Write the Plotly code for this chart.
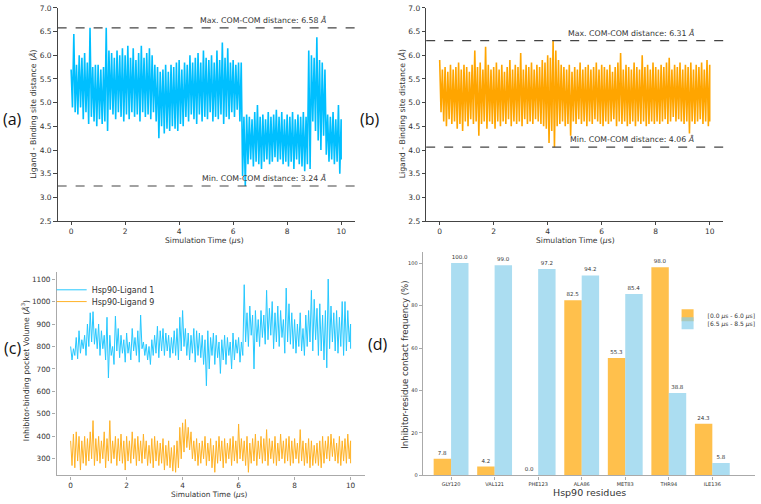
import plotly.graph_objects as go

# ---------------- DATA ----------------
times = [round(i * 0.1, 1) for i in range(101)]
time_ticks = [0, 2, 4, 6, 8, 10]
dist_ticks = [2.5, 3.0, 3.5, 4.0, 4.5, 5.0, 5.5, 6.0, 6.5, 7.0]
vol_ticks = [300, 400, 500, 600, 700, 800, 900, 1000, 1100]
freq_ticks = [0, 20, 40, 60, 80, 100]

# (a) Hsp90-Ligand 1 COM-COM distance: upper / lower envelope read every 0.1 us
dist_a_hi = [5.7, 6.45, 5.8, 6.0, 5.95, 6.05, 5.85, 6.58, 5.75, 5.8,
             5.8, 5.7, 5.75, 6.58, 6.1, 6.05, 5.95, 6.1, 6.0, 6.15,
             6.0, 6.2, 5.95, 6.15, 5.9, 6.05, 6.2, 5.95, 6.05, 6.15,
             6.0, 5.8, 5.75, 5.65, 5.7, 5.8, 5.65, 5.8, 5.75, 5.85,
             5.9, 5.7, 5.85, 5.8, 6.0, 5.85, 5.95, 6.05, 5.85, 6.1,
             5.95, 5.9, 6.0, 5.85, 6.1, 5.9, 6.27, 5.95, 6.15, 5.85,
             5.9, 5.8, 5.85, 5.85, 4.7, 4.75, 4.7, 4.65, 4.8, 4.95,
             4.7, 4.75, 4.65, 4.8, 4.7, 4.75, 4.85, 4.7, 4.8, 4.65,
             4.75, 4.7, 4.8, 4.65, 4.75, 4.7, 4.8, 4.7, 6.1, 6.0,
             5.95, 6.38, 5.9, 5.85, 5.7, 4.75, 4.7, 4.8, 4.65, 4.95,
             4.65]
dist_a_lo = [4.9, 4.8, 4.75, 4.9, 4.65, 4.8, 4.55, 4.7, 4.6, 4.5,
             4.65, 4.55, 4.6, 4.4, 4.85, 4.75, 4.65, 4.8, 4.7, 4.6,
             4.75, 4.65, 4.8, 4.7, 4.75, 4.6, 4.8, 4.7, 4.75, 4.65,
             4.8, 4.6, 4.25, 4.5, 4.35, 4.45, 4.4, 4.5, 4.45, 4.4,
             4.55, 4.5, 4.7, 4.6, 4.75, 4.65, 4.55, 4.75, 4.6, 4.7,
             4.65, 4.8, 4.6, 4.7, 4.65, 4.75, 4.55, 4.7, 4.65, 4.8,
             4.7, 4.85, 4.6, 3.45, 3.24, 3.7, 3.8, 3.65, 3.75, 3.7,
             3.6, 3.75, 3.8, 3.7, 3.75, 3.85, 3.75, 3.8, 3.7, 3.75,
             3.65, 3.75, 3.6, 3.8, 3.7, 3.65, 3.55, 3.7, 3.6, 4.6,
             4.4, 4.2, 4.0, 4.3, 3.9, 3.75, 3.8, 3.7, 3.75, 3.5,
             3.8]
limits_a = [6.58, 3.24]

# (b) Hsp90-Ligand 9 COM-COM distance
dist_b_hi = [5.9, 5.7, 5.75, 5.65, 5.8, 5.7, 5.75, 5.85, 5.7, 5.8,
             5.75, 5.65, 5.8, 6.1, 5.75, 5.85, 5.7, 6.18, 5.8, 5.7,
             5.75, 5.85, 5.7, 5.8, 5.65, 5.75, 5.9, 5.7, 5.8, 5.75,
             6.05, 5.7, 5.8, 5.75, 5.85, 5.7, 5.8, 5.75, 5.9, 5.85,
             6.0, 5.95, 6.31, 6.1, 5.9, 5.8, 5.75, 5.7, 5.8, 5.65,
             5.75, 5.7, 5.85, 5.7, 5.75, 5.8, 5.7, 5.75, 5.85, 5.7,
             5.8, 5.75, 5.7, 5.8, 5.65, 5.75, 5.85, 6.05, 5.7, 5.8,
             5.75, 5.7, 5.85, 5.75, 5.7, 6.0, 5.75, 5.8, 5.7, 5.85,
             5.75, 5.7, 5.8, 5.75, 5.85, 5.95, 5.7, 5.8, 5.75, 5.85,
             5.7, 5.8, 5.75, 5.85, 5.7, 5.8, 5.75, 5.85, 5.7, 5.9,
             5.8]
dist_b_lo = [4.8, 4.6, 4.5, 4.65, 4.55, 4.6, 4.45, 4.55, 4.4, 4.6,
             4.5, 4.65, 4.55, 4.6, 4.3, 4.55, 4.6, 4.45, 4.6, 4.55,
             4.45, 4.6, 4.5, 4.6, 4.55, 4.65, 4.5, 4.6, 4.55, 4.6,
             4.5, 4.65, 4.55, 4.6, 4.55, 4.65, 4.6, 4.55, 4.5, 4.45,
             4.15, 4.4, 4.06, 4.5, 4.55, 4.6, 4.5, 4.55, 4.3, 4.6,
             4.55, 4.65, 4.55, 4.6, 4.5, 4.6, 4.55, 4.65, 4.6, 4.55,
             4.5, 4.6, 4.55, 4.6, 4.65, 4.5, 4.6, 4.55, 4.6, 4.5,
             4.55, 4.6, 4.5, 4.6, 4.55, 4.6, 4.5, 4.55, 4.6, 4.55,
             4.6, 4.55, 4.6, 4.65, 4.55, 4.6, 4.7, 4.6, 4.65, 4.6,
             4.55, 4.6, 4.35, 4.6, 4.55, 4.6, 4.65, 4.55, 4.6, 4.5,
             4.6]
limits_b = [6.31, 4.06]

# (c) pocket volumes
vol1_hi = [800, 790, 840, 870, 830, 850, 900, 950, 955, 880,
           900, 870, 850, 930, 850, 800, 935, 880, 850, 830,
           860, 820, 880, 840, 870, 940, 820, 810, 800, 830,
           850, 890, 870, 880, 860, 850, 840, 870, 880, 930,
           960, 880, 860, 850, 880, 870, 860, 850, 830, 870,
           840, 860, 850, 820, 830, 850, 840, 820, 860, 830,
           840, 820, 1075, 950, 980, 940, 960, 920, 960, 940,
           1050, 970, 1000, 950, 980, 960, 920, 1060, 990, 950,
           920, 900, 950, 880, 940, 960, 1050, 1010, 970, 990,
           940, 960, 1100, 980, 950, 960, 930, 1000, 1000, 960,
           900]
vol1_lo = [740, 760, 745, 770, 790, 760, 800, 820, 810, 790,
           760, 790, 740, 660, 760, 720, 780, 750, 770, 730,
           770, 740, 780, 760, 730, 790, 760, 740, 720, 760,
           770, 750, 780, 760, 780, 750, 770, 760, 740, 780,
           800, 760, 740, 770, 730, 760, 750, 720, 625, 700,
           760, 720, 750, 680, 740, 720, 760, 700, 740, 770,
           730, 760, 820, 800, 850, 700, 820, 800, 840, 810,
           830, 850, 790, 820, 800, 840, 770, 820, 810, 790,
           770, 800, 780, 760, 800, 820, 780, 830, 760, 780,
           740, 705, 790, 820, 780, 770, 800, 760, 780, 820,
           790]
vol9_hi = [380, 410, 420, 400, 380, 400, 390, 420, 470, 390,
           400, 380, 420, 390, 470, 380, 400, 390, 410, 380,
           400, 380, 420, 390, 400, 380, 410, 380, 360, 390,
           400, 380, 370, 390, 360, 380, 350, 360, 380, 440,
           460, 475, 440, 420, 380, 390, 370, 380, 400, 370,
           390, 360, 380, 400, 380, 390, 370, 390, 400, 380,
           455, 390, 380, 400, 370, 390, 410, 380, 400, 390,
           430, 390, 380, 400, 370, 410, 380, 390, 400, 380,
           390, 370, 430, 380, 370, 390, 380, 360, 370, 380,
           400, 380, 400, 410, 390, 370, 400, 380, 390, 410,
           380]
vol9_lo = [270, 260, 290, 250, 280, 270, 290, 300, 270, 290,
           280, 300, 260, 290, 280, 300, 270, 290, 280, 250,
           290, 280, 300, 270, 290, 280, 300, 270, 280, 260,
           290, 270, 280, 250, 270, 260, 245, 240, 260, 300,
           330, 350, 340, 300, 290, 270, 280, 300, 270, 290,
           260, 240, 280, 290, 260, 280, 300, 270, 290, 280,
           300, 290, 270, 240, 280, 290, 270, 300, 280, 290,
           270, 300, 280, 270, 290, 300, 280, 290, 270, 280,
           300, 280, 290, 270, 280, 260, 270, 280, 270, 260,
           280, 300, 290, 310, 290, 280, 270, 290, 280, 300,
           280]

# (d) contact frequencies
residues = ["GLY120", "VAL121", "PHE123", "ALA86", "MET83", "THR94", "ILE136"]
freq_early = [7.8, 4.2, 0.0, 82.5, 55.3, 98.0, 24.3]
freq_late = [100.0, 99.0, 97.2, 94.2, 85.4, 38.8, 5.8]

# ---------------- HELPERS ----------------
def zigzag(t, hi, lo):
    xs, ys = [], []
    for ti, h, l in zip(t, hi, lo):
        xs += [ti, min(ti + 0.05, 10.0)]
        ys += [h, l]
    return xs, ys

W, H = 761, 504
def px(x):
    return x / W
def py(y):
    return 1 - y / H

BLUE = "#00BFFF"
ORANGE = "#FFA500"
TXT = "#333333"
FONT = "DejaVu Sans"

fig = go.Figure()

xa, ya = zigzag(times, dist_a_hi, dist_a_lo)
fig.add_trace(go.Scatter(x=xa, y=ya, mode="lines", line=dict(color=BLUE, width=1.6, simplify=False),
                         xaxis="x", yaxis="y", showlegend=False))
xb, yb = zigzag(times, dist_b_hi, dist_b_lo)
fig.add_trace(go.Scatter(x=xb, y=yb, mode="lines", line=dict(color=ORANGE, width=1.6, simplify=False),
                         xaxis="x2", yaxis="y2", showlegend=False))
xc1, yc1 = zigzag(times, vol1_hi, vol1_lo)
fig.add_trace(go.Scatter(x=xc1, y=yc1, mode="lines", line=dict(color=BLUE, width=1, simplify=False),
                         opacity=0.85, xaxis="x3", yaxis="y3", name="Hsp90-Ligand 1",
                         legend="legend"))
xc9, yc9 = zigzag(times, vol9_hi, vol9_lo)
fig.add_trace(go.Scatter(x=xc9, y=yc9, mode="lines", line=dict(color=ORANGE, width=1, simplify=False),
                         opacity=0.85, xaxis="x3", yaxis="y3", name="Hsp90-Ligand 9",
                         legend="legend2"))

fig.add_trace(go.Bar(x=residues, y=freq_early, marker=dict(color="rgba(255,165,0,0.7)", line=dict(width=0)),
                     name="[0.0 <i>μ</i>s - 6.0 <i>μ</i>s]", text=[f"{v:.1f}" for v in freq_early],
                     textposition="outside", textfont=dict(size=5.5, color=TXT), cliponaxis=False,
                     xaxis="x4", yaxis="y4", legend="legend3"))
fig.add_trace(go.Bar(x=residues, y=freq_late, marker=dict(color="rgba(135,206,235,0.7)", line=dict(width=0)),
                     name="[6.5 <i>μ</i>s - 8.5 <i>μ</i>s]", text=[f"{v:.1f}" for v in freq_late],
                     textposition="outside", textfont=dict(size=5.5, color=TXT), cliponaxis=False,
                     xaxis="x4", yaxis="y4", legend="legend4"))

def axis_style(color, size, linew=1, ticklen=3.5):
    return dict(showline=True, linecolor=color, linewidth=linew, ticks="outside", ticklen=ticklen,
                tickcolor=color, tickfont=dict(size=size, color=TXT, family=FONT),
                showgrid=False, zeroline=False, ticklabeloverflow="allow")

def legend_at(x, y, size):
    return dict(x=px(x), y=py(y), xanchor="left", yanchor="middle", bgcolor="rgba(0,0,0,0)",
                font=dict(size=size, color=TXT, family=FONT), itemwidth=30, borderwidth=0)

ax_ab = axis_style("#444444", 7.5)
fig.update_layout(
    width=W, height=H, margin=dict(l=0, r=0, t=0, b=0),
    paper_bgcolor="white", plot_bgcolor="white",
    font=dict(family=FONT, color=TXT),
    barmode="group", bargap=0.2, bargroupgap=0,
    xaxis=dict(domain=[px(58), px(357)], range=[-0.5, 10.5], anchor="y", tickvals=time_ticks,
               **axis_style("#444444", 7.5, 1, 3)),
    yaxis=dict(domain=[py(221), py(4)], range=[2.5, 7.0], anchor="x", tickvals=dist_ticks, tickformat=".1f", **ax_ab),
    xaxis2=dict(domain=[px(429), px(728)], range=[-0.5, 10.5], anchor="y2", tickvals=time_ticks,
                **axis_style("#444444", 7.5, 1, 3)),
    yaxis2=dict(domain=[py(221), py(4)], range=[2.5, 7.0], anchor="x2", tickvals=dist_ticks, tickformat=".1f", **ax_ab),
    xaxis3=dict(domain=[px(57), px(367)], range=[-0.5, 10.5], anchor="y3", tickvals=time_ticks,
                **axis_style("#aaaaaa", 7.3, 1.3, 3)),
    yaxis3=dict(domain=[py(480), py(273)], range=[226, 1131], anchor="x3", tickvals=vol_ticks,
                **axis_style("#aaaaaa", 7.3, 1.3)),
    xaxis4=dict(domain=[px(426), px(760)], range=[-0.64, 6.98], anchor="y4",
                **axis_style("#aaaaaa", 5, 1.2, 3)),
    yaxis4=dict(domain=[py(480), py(253)], range=[0, 105], anchor="x4", tickvals=freq_ticks,
                **axis_style("#aaaaaa", 5, 1.2)),
    legend=legend_at(52, 291, 8),
    legend2=legend_at(52, 303, 8),
    legend3=legend_at(672, 317, 6),
    legend4=legend_at(672, 325, 6),
)

# dashed extreme lines
for val in limits_a:
    fig.add_shape(type="line", xref="x domain", yref="y", x0=0, x1=1, y0=val, y1=val,
                  line=dict(color="#444444", width=1.2, dash="dash"))
for val in limits_b:
    fig.add_shape(type="line", xref="x2 domain", yref="y2", x0=0, x1=1, y0=val, y1=val,
                  line=dict(color="#444444", width=1.2, dash="dash"))

ann = []
for xr, yr, lims in [("x", "y", limits_a), ("x2", "y2", limits_b)]:
    for lab, val in zip(["Max.", "Min."], lims):
        ann.append(dict(xref=xr, yref=yr, x=9.5, y=val, text=f"{lab} COM-COM distance: {val:.2f} <i>Å</i>",
                        xanchor="right", yanchor="bottom", yshift=1, showarrow=False,
                        font=dict(size=7.8, color=TXT)))

def title(x, y, text, size, angle=0):
    return dict(xref="paper", yref="paper", x=px(x), y=py(y), text=text, textangle=angle,
                xanchor="center", yanchor="middle", showarrow=False, font=dict(size=size, color=TXT, family=FONT))

ann += [
    title(33, 112, "Ligand - Binding site distance (<i>Å</i>)", 7.8, -90),
    title(206, 241, "Simulation Time (<i>μ</i>s)", 7.6),
    title(405, 112, "Ligand - Binding site distance (<i>Å</i>)", 7.8, -90),
    title(579, 241, "Simulation Time (<i>μ</i>s)", 7.6),
    title(26, 373, "Inhibitor-binding pocket Volume (<i>Å</i><sup>3</sup>)", 7.8, -90),
    title(211, 499, "Simulation Time (<i>μ</i>s)", 7.4),
    title(408, 367, "Inhibitor-residue contact frequency (%)", 8.6, -90),
    title(593, 497, "Hsp90 residues", 9.5),
]
for lab, x, y in [("(a)", 13, 117), ("(b)", 372, 117), ("(c)", 13, 350), ("(d)", 381, 346)]:
    ann.append(dict(xref="paper", yref="paper", x=px(x), y=py(y), text=lab, showarrow=False,
                    xanchor="center", yanchor="middle", font=dict(size=16, color="#111111", family="Open Sans")))
fig.update_layout(annotations=ann)

fig.write_html("out.html", config={"displayModeBar": False},
               post_script="document.body.style.margin='0px';")
